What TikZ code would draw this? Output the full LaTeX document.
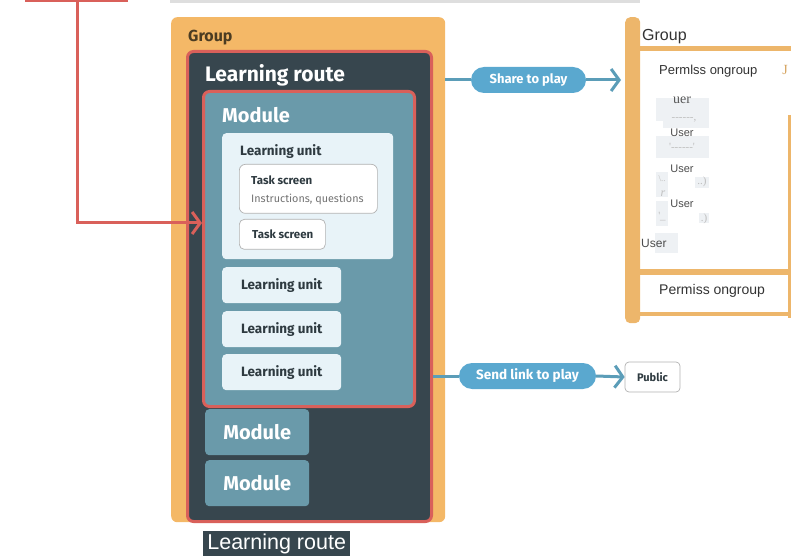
\documentclass[tikz,border=0pt]{standalone}
\usepackage{fontspec}
\setmainfont{Liberation Sans}
\newfontfamily\uifont{Fira Sans}
\newfontfamily\serifj{Liberation Serif}
\usetikzlibrary{arrows.meta}
\definecolor{grporange}{HTML}{F4B867}
\definecolor{rorange}{HTML}{EDB66B}
\definecolor{darkslate}{HTML}{37464E}
\definecolor{redline}{HTML}{D9605A}
\definecolor{modteal}{HTML}{6A9AAA}
\definecolor{unitlight}{HTML}{E8F3F8}
\definecolor{pillblue}{HTML}{5AA8CF}
\definecolor{lineblue}{HTML}{5B9DB8}
\definecolor{darktext}{HTML}{2E3A40}
\definecolor{grouptext}{HTML}{4B3C22}
\definecolor{ghost}{HTML}{EEF1F4}
\begin{document}
\begin{tikzpicture}[x=1pt,y=-1pt,
  box/.style={inner sep=0pt, anchor=north west, rounded corners=4pt},
  uibold/.style={font=\uifont\bfseries\fontsize{#1}{#1}\selectfont},
  lbl/.style={inner sep=0pt, anchor=west},
  unitbox/.style={box, fill=unitlight, minimum width=119pt, minimum height=36pt},
  smallmod/.style={box, fill=modteal, minimum width=104pt, minimum height=46pt, text=white, uibold=20, anchor=north west},
  taskbox/.style={box, fill=white, draw=black!30, line width=0.7pt},
  pill/.style={rounded corners=13pt, fill=pillblue, text=white, minimum height=26pt, inner sep=0pt, uibold=13},
  chev/.style={-{Straight Barb[length=8pt,width=22pt,line width=3pt]}},
  ghostbox/.style={fill=ghost},
  usertxt/.style={inner sep=0pt, text=black!70, font=\fontsize{11}{11}\selectfont},
  junk/.style={inner sep=0pt, text=black!25, font=\serifj\fontsize{11}{11}\selectfont}
]
\useasboundingbox (0,0) rectangle (793,556);

% top lines
\coordinate (rl) at (25,1);
\coordinate (rr) at (128,1);
\coordinate (gl) at (170,1);
\coordinate (gr) at (640,1);
\draw[redline, line width=3pt] (rl) -- (rr);
\draw[black!13, line width=4pt] (gl) -- (gr);

% left group
\node[box, fill=grporange, minimum width=274pt, minimum height=505pt, rounded corners=6pt] (grp) at (171,17) {};
\node[lbl, text=grouptext, uibold=16] (grpt) at (188,38) {Group};
\node[box, fill=darkslate, draw=redline, line width=3pt, minimum width=244pt, minimum height=470pt, rounded corners=6pt] (lr) at (186,50) {};
\node[lbl, text=white, uibold=21] (lrt) at (205,75) {Learning route};
\node[box, fill=modteal, draw=redline, line width=3pt, minimum width=211pt, minimum height=315pt, rounded corners=6pt] (mod) at (202,90) {};
\node[lbl, text=white, uibold=20] (modt) at (222,115) {Module};
\node[box, fill=unitlight, minimum width=171pt, minimum height=126pt] (lu1) at (222,133) {};
\node[lbl, text=darktext, uibold=13.5] (lu1t) at (240,152) {Learning unit};
\node[taskbox, minimum width=138pt, minimum height=49pt, rounded corners=6pt] (ts1) at (239,164) {};
\node[lbl, text=darktext, uibold=11.5] (ts1t) at (251,180) {Task screen};
\node[lbl, text=black!55, font=\uifont\fontsize{10.8}{10.8}\selectfont] (ts1d) at (251,199) {Instructions, questions};
\node[taskbox, minimum width=86pt, minimum height=30pt, rounded corners=5pt] (ts2) at (239,219) {};
\node[lbl, text=darktext, uibold=11.5] (ts2t) at (252,234) {Task screen};
\node[unitbox, text=darktext, uibold=13.5] (lu2) at (222,267) {Learning unit};
\node[unitbox, text=darktext, uibold=13.5] (lu3) at (222,311) {Learning unit};
\node[unitbox, text=darktext, uibold=13.5] (lu4) at (222,354) {Learning unit};
\node[smallmod] (mod2) at (205,409) {Module};
\node[smallmod] (mod3) at (205,460) {Module};

% caption
\node[box, rounded corners=0pt, fill=darkslate, text=white, minimum width=147pt, minimum height=25pt, font=\fontsize{21.5}{21.5}\selectfont] (cap) at (203,531) {Learning route};

% red connector
\coordinate (redtop) at (77,1);
\coordinate (redend) at (mod.west |- 0,223);
\draw[redline, line width=3pt, chev] (redtop) |- (redend);

% right group
\node[box, fill=rorange, minimum width=15pt, minimum height=306pt, rounded corners=5pt] (rbar) at (625,17) {};
\node[lbl, text=black!80, font=\fontsize{16}{16}\selectfont] (rgt) at (642,37) {Group};
\coordinate (t1) at (640,49);  \coordinate (t2) at (791,49);
\coordinate (m1) at (636,272); \coordinate (m2) at (791,272);
\coordinate (b1) at (640,314); \coordinate (b2) at (790,314);
\coordinate (v1) at (789,115); \coordinate (v2) at (789,318);
\draw[rorange, line width=5pt] (t1) -- (t2);
\draw[rorange, line width=6pt] (m1) -- (m2);
\draw[rorange, line width=4pt] (b1) -- (b2);
\draw[rorange, line width=3pt] (v1) -- (v2);
\node[inner sep=0pt, text=rorange!90!black, font=\serifj\fontsize{14}{14}\selectfont] (jj) at (785,70) {J};
\node[lbl, text=black!80, font=\fontsize{13}{13}\selectfont] (p1) at (659,71) {Permlss ongroup};
\node[lbl, text=black!80, font=\fontsize{14}{14}\selectfont] (p2) at (659,291) {Permiss ongroup};

% ghost user list
\fill[ghostbox] (656,98) rectangle (709,121);
\fill[ghostbox] (663,121) rectangle (709,128);
\fill[ghostbox] (656,136) rectangle (709,158);
\fill[ghostbox] (656,172) rectangle (668,197);
\fill[ghostbox] (695,177) rectangle (709,188);
\fill[ghostbox] (656,201) rectangle (668,226);
\fill[ghostbox] (699,213) rectangle (709,223);
\fill[ghostbox] (655,233) rectangle (678,253);
\node[inner sep=0pt, text=black!65, font=\serifj\fontsize{14}{14}\selectfont] (u0) at (682,100) {uer};
\node[junk] (j1) at (684,120) {------,};
\node[usertxt] (u1) at (682,133) {User};
\node[junk] (j2) at (682,147) {'------'};
\node[usertxt] (u2) at (682,169) {User};
\node[junk, font=\serifj\fontsize{9}{9}\selectfont] (j3) at (662,179) {\textbackslash..};
\node[junk] (j4) at (702,182) {..)};
\node[junk, font=\serifj\itshape\fontsize{12}{12}\selectfont] (j5) at (663,194) {r};
\node[usertxt] (u3) at (682,204) {User};
\node[junk] (j6) at (662,217) {'\_};
\node[junk] (j7) at (704,219) {.)};
\node[lbl, usertxt, font=\fontsize{12}{12}\selectfont] (u4) at (641,243) {User};

% share to play
\node[pill, minimum width=115pt] (share) at (528.5,80) {Share to play};
\draw[lineblue, line width=3pt] (grp.east |- share) -- (share.west);
\draw[lineblue, line width=3pt, chev] (share.east) -- ([xshift=-4pt]rbar.west |- share);

% send link to play
\node[pill, minimum width=137pt, uibold=13.5] (send) at (527.5,376) {Send link to play};
\node[draw=black!30, fill=white, rounded corners=4pt, line width=0.7pt, minimum width=55pt, minimum height=30pt, inner sep=0pt, text=darktext, uibold=11] (pub) at (652.5,377) {Public};
\draw[lineblue, line width=3pt] (lr.east |- send) -- (send.west);
\draw[lineblue, line width=3pt, chev] (send.east) -- (pub.west);
\end{tikzpicture}
\end{document}
